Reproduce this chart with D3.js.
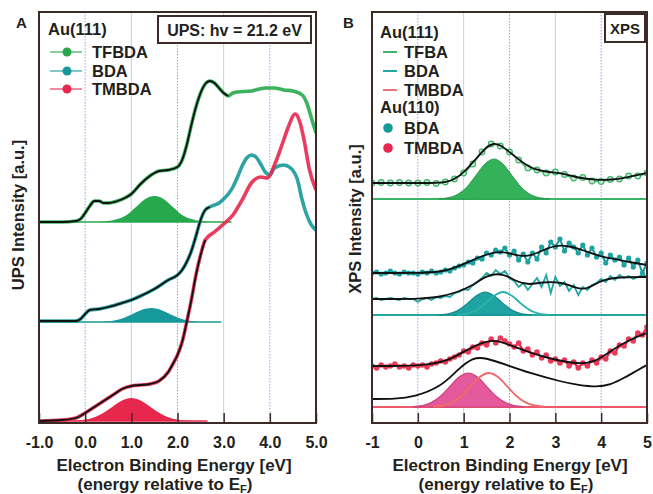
<!DOCTYPE html>
<meta charset="utf-8">
<style>
body { margin: 0; background: #fff; }
svg { font-family: "Liberation Sans", Arial, sans-serif; font-weight: bold; }
</style>
<body>
<script src="https://d3js.org/d3.v7.min.js"></script>
<script>

var energyTicks = [-1, 0, 1, 2, 3, 4, 5];
var upsTickLabels = ["-1.0", "0.0", "1.0", "2.0", "3.0", "4.0", "5.0"];
var xpsTickLabels = ["-1", "0", "1", "2", "3", "4", "5"];

// ---- panel A : UPS spectra on Au(111), [binding energy, intensity a.u.]
var upsTFBDA = [[-1.0,201],[-0.5,201],[-0.2,202],[-0.1,204],[0.0,210],[0.1,217],[0.2,222],[0.3,222],[0.4,220],[0.5,220],[0.7,222],[0.9,226],[1.0,229],[1.2,239],[1.4,247],[1.5,250],[1.6,252],[1.8,253],[2.0,256],[2.1,263],[2.2,278],[2.3,298],[2.4,316],[2.5,330],[2.6,339],[2.7,342],[2.8,340],[2.9,335],[3.0,330],[3.1,327],[3.2,330],[3.3,331],[3.6,332],[3.9,335],[4.1,335],[4.3,333],[4.5,332],[4.7,328],[4.8,320],[4.9,305],[5.0,290]];
var upsBDA = [[-1.0,102],[-0.5,102],[-0.2,102],[-0.1,104],[0.0,109],[0.1,113],[0.3,114],[0.5,116],[0.8,120],[1.0,123],[1.2,127],[1.5,134],[1.8,143],[2.0,148],[2.1,153],[2.2,161],[2.3,172],[2.4,187],[2.5,203],[2.6,213],[2.7,216],[2.9,220],[3.0,224],[3.1,229],[3.2,236],[3.3,246],[3.4,257],[3.5,265],[3.6,268],[3.7,266],[3.8,259],[3.9,251],[4.0,248],[4.1,255],[4.3,258],[4.45,255],[4.6,243],[4.7,223],[4.8,208],[4.9,198],[5.0,193]];
var upsTMBDA = [[-1.0,2],[-0.5,3],[-0.2,5],[0.0,10],[0.2,16],[0.4,22],[0.6,28],[0.8,34],[1.0,37],[1.2,38],[1.4,39],[1.6,42],[1.8,51],[1.9,59],[2.0,68],[2.1,81],[2.2,101],[2.3,123],[2.4,148],[2.5,168],[2.6,183],[2.8,191],[3.0,199],[3.2,208],[3.4,223],[3.6,240],[3.8,246],[3.95,245],[4.1,258],[4.3,283],[4.4,296],[4.55,309],[4.65,301],[4.75,281],[4.85,255],[5.0,233]];
// energy up to which the black fit runs over each spectrum
var upsFitEnd = [3.12, 2.75, 2.7];
// fitted HOMO peaks
var upsTFBDAPeak = [[0.3,201],[0.5,202],[0.7,204],[0.9,208],[1.1,216],[1.3,224],[1.5,227],[1.7,224],[1.9,216],[2.1,208],[2.3,204],[2.5,202],[2.7,201]];
var upsBDAPeak = [[0.43,101.4],[0.63,102.5],[0.83,105],[1.03,109],[1.23,113.2],[1.43,115],[1.63,113.2],[1.83,109],[2.03,105],[2.23,102.5],[2.43,101.4]];
var upsTMBDAPeak = [[-0.4,2.1],[-0.2,2.4],[0.0,3.4],[0.2,5.7],[0.4,10.3],[0.6,16.6],[0.8,22.5],[1.0,25],[1.2,22.5],[1.4,16.6],[1.6,10.3],[1.8,5.7],[2.0,3.4],[2.2,2.4],[2.4,2.1],[2.65,2]];
// peak baselines: [from, to, level]
var upsBaselines = [[-1, 3.17, 201], [-1, 2.95, 101], [-1, 2.65, 2]];

// ---- panel B : XPS valence spectra
var xpsTFBAData = [[-1.0,240],[-0.8,240.5],[-0.6,240],[-0.4,240.5],[-0.2,240],[0.0,240],[0.2,240.5],[0.4,239.5],[0.6,241],[0.8,244],[1.0,250],[1.2,259],[1.4,271],[1.6,279],[1.8,277],[2.0,271],[2.2,263],[2.4,255],[2.6,253],[2.8,250],[3.0,251],[3.2,248.5],[3.4,245],[3.6,245.5],[3.8,242],[4.0,241.5],[4.2,243.5],[4.4,244],[4.6,247],[4.8,247],[5.0,250]];
var xpsTFBAFit = [[-1.0,240],[-0.5,240],[0.0,240],[0.4,240],[0.65,241],[0.8,244],[1.0,250],[1.3,266],[1.5,276],[1.65,280],[1.8,278],[2.0,271],[2.16,265],[2.44,255],[2.8,251],[3.15,250],[3.5,245],[3.9,243],[4.24,243],[4.6,246],[5.0,250]];
var xpsTFBAPeak = [[0.46,224.3],[0.66,225.2],[0.86,228.4],[1.06,235.5],[1.26,247],[1.46,258.8],[1.66,264],[1.86,258.8],[2.06,247],[2.26,235.5],[2.46,228.4],[2.66,225.2],[2.86,224.3]];

var xpsGrid = [-1.0,-0.9,-0.8,-0.7,-0.6,-0.5,-0.4,-0.3,-0.2,-0.1,
  0.0,0.1,0.2,0.3,0.4,0.5,0.6,0.7,0.8,0.9,
  1.0,1.1,1.2,1.3,1.4,1.5,1.6,1.7,1.8,1.9,
  2.0,2.1,2.2,2.3,2.4,2.5,2.6,2.7,2.8,2.9,
  3.0,3.1,3.2,3.3,3.4,3.5,3.6,3.7,3.8,3.9,
  4.0,4.1,4.2,4.3,4.4,4.5,4.6,4.7,4.8,4.9,5.0];
var xpsBDA110 = [150,151,149,150,152,150,149,151,150,150,
  149,151,150,152,150,151,153,152,155,157,
  158,161,160,165,164,170,168,173,171,175,
  168,172,163,169,161,170,164,176,170,181,
  176,184,172,180,176,170,178,168,175,166,
  170,160,168,163,166,158,165,156,163,150,160];
var xpsBDA110Fit = [[-1.0,150],[0.0,150],[0.5,151],[0.8,155],[1.2,163],[1.5,169],[1.86,172],[2.1,168],[2.4,166],[2.7,172],[3.0,178],[3.3,177],[3.6,173],[4.0,166],[4.3,164],[4.6,161],[5.0,158]];
var xpsBDA111 = [124,125,123,124,125,124,123,125,124,124,
  121,124,125,123,126,125,127,126,130,131,
  134,133,138,141,145,150,147,153,149,152,
  145,142,136,140,133,139,145,136,148,130,
  146,137,141,132,138,128,136,133,138,140,
  144,141,147,143,148,145,147,144,146,148,147];
var xpsBDA111Fit = [[-1.0,124],[-0.5,124],[0.0,124],[0.5,126],[0.86,131],[1.15,136],[1.5,148],[1.86,150],[2.16,141],[2.44,138],[2.7,141],[3.15,141],[3.45,135],[3.67,133],[4.0,143],[4.38,146],[5.0,146]];
var xpsBDAPeakA = [[0.47,108.2],[0.67,109.2],[0.87,112.4],[1.07,119],[1.27,127.1],[1.47,131],[1.67,127.1],[1.87,119],[2.07,112.4],[2.27,109.2],[2.47,108.2]];
var xpsBDAPeakB = [[0.86,108.2],[1.06,109.2],[1.26,112.4],[1.46,119],[1.66,127.1],[1.86,131],[2.06,127.1],[2.26,119],[2.46,112.4],[2.66,109.2],[2.86,108.2]];

var xpsTMBDA110 = [57,55,58,56,57,59,56,57,55,58,
  57,58,56,59,60,62,61,64,66,68,
  72,71,76,75,80,78,84,80,85,82,
  79,76,80,72,74,68,71,65,68,62,
  64,60,63,57,61,55,60,57,63,60,
  66,64,72,70,78,77,84,82,90,88,96];
var xpsTMBDA110Fit = [[-1.0,57],[0.0,57],[0.65,61],[1.15,76],[1.58,83],[1.8,82],[2.44,70],[3.0,63],[3.5,59],[3.88,61],[4.24,73],[4.6,83],[5.0,90]];
var xpsTMBDA111Fit = [[-1.0,24],[-0.5,24],[-0.08,26],[0.5,36],[0.86,53],[1.2,66],[1.5,65],[1.94,58],[2.44,50],[3.15,41],[3.5,38],[3.9,36],[4.2,38],[4.5,45],[4.8,53],[5.0,58]];
var xpsTMBDAPeakA = [[-0.1,16.4],[0.1,17.5],[0.3,20.6],[0.5,27],[0.7,36.6],[0.9,46],[1.1,50],[1.3,46],[1.5,36.6],[1.7,27],[1.9,20.6],[2.1,17.5],[2.3,16.4]];
var xpsTMBDAPeakB = [[0.35,16.4],[0.55,17.5],[0.75,20.6],[0.95,27],[1.15,36.6],[1.35,46],[1.55,50],[1.75,46],[1.95,36.6],[2.15,27],[2.35,20.6],[2.55,17.5],[2.75,16.4]];
var xpsBaselines = [224, 108, 16];

var green = "#27a84c", teal = "#16999a", red = "#e8274d", pink = "#e4589c";
var ink = "#231f20", frameCol = "#3b2a28";

var svg = d3.select("body").append("svg")
    .attr("width", 653)
    .attr("height", 494);

var plotTop = 12, plotBottom = 423;

function panel(left, right, tickLabels, id) {
  var x = d3.scaleLinear().domain([-1, 5]).range([left, right]);
  var y = d3.scaleLinear().domain([0, 411]).range([plotBottom, plotTop]);

  svg.append("clipPath").attr("id", id)
    .append("rect").attr("x", left).attr("y", plotTop)
    .attr("width", right - left).attr("height", plotBottom - plotTop);

  // vertical guides
  svg.append("g").selectAll("line")
      .data([0, 1, 2, 3, 4])
    .enter().append("line")
      .attr("x1", x).attr("x2", x)
      .attr("y1", plotTop).attr("y2", plotBottom)
      .attr("stroke", function(d) { return d % 2 ? "#cfcfd4" : "#9aa2e6"; })
      .attr("stroke-width", 1)
      .attr("stroke-dasharray", function(d) { return d % 2 ? null : "1.5,1.5"; });

  var g = svg.append("g").attr("clip-path", "url(#" + id + ")");

  var axis = d3.axisBottom(x)
      .tickValues(energyTicks)
      .tickSizeInner(-10)
      .tickSizeOuter(0)
      .tickPadding(14)
      .tickFormat(function(d, i) { return tickLabels[i]; });

  svg.append("g")
      .attr("transform", "translate(0," + plotBottom + ")")
      .call(axis)
      .attr("font-family", "Liberation Sans, Arial, sans-serif")
      .attr("font-size", 16)
      .attr("font-weight", "bold")
      .call(function(a) {
        a.select(".domain").remove();
        a.selectAll("line").attr("stroke", frameCol).attr("stroke-width", 1.5);
        a.selectAll("text").attr("fill", ink);
      });

  return { g: g, x: x, y: y, left: left, right: right };
}

function lineGen(p, curve) {
  return d3.line()
      .x(function(d) { return p.x(d[0]); })
      .y(function(d) { return p.y(d[1]); })
      .curve(curve || d3.curveMonotoneX);
}

function areaGen(p, base) {
  return d3.area()
      .x(function(d) { return p.x(d[0]); })
      .y0(p.y(base))
      .y1(function(d) { return p.y(d[1]); })
      .curve(d3.curveMonotoneX);
}

function frame(p) {
  svg.append("rect")
      .attr("x", p.left).attr("y", plotTop)
      .attr("width", p.right - p.left).attr("height", plotBottom - plotTop)
      .attr("fill", "none").attr("stroke", frameCol).attr("stroke-width", 2);
}

function text(x, y, s, size, anchor) {
  return svg.append("text")
      .attr("x", x).attr("y", y)
      .attr("font-size", size)
      .attr("fill", ink)
      .attr("text-anchor", anchor || "start")
      .text(s);
}

// ================= panel A =================
var A = panel(39, 316, upsTickLabels, "clipA");
var upsSeries = [upsTFBDA, upsBDA, upsTMBDA];
var upsPeaks = [upsTFBDAPeak, upsBDAPeak, upsTMBDAPeak];
var upsColors = [green, teal, red];

upsBaselines.forEach(function(b, i) {
  A.g.append("line")
      .attr("x1", A.x(b[0])).attr("x2", A.x(b[1]))
      .attr("y1", A.y(b[2])).attr("y2", A.y(b[2]))
      .attr("stroke", upsColors[i]).attr("stroke-width", 1.5);
  A.g.append("path")
      .datum(upsPeaks[i])
      .attr("d", areaGen(A, b[2]))
      .attr("fill", upsColors[i]);
});

upsSeries.forEach(function(s, i) {
  A.g.append("path")
      .datum(s)
      .attr("d", lineGen(A))
      .attr("fill", "none")
      .attr("stroke", upsColors[i])
      .attr("stroke-width", 3.6)
      .attr("stroke-opacity", 0.9);
  A.g.append("path")
      .datum(s.filter(function(d) { return d[0] <= upsFitEnd[i]; }))
      .attr("d", lineGen(A))
      .attr("fill", "none")
      .attr("stroke", "#111")
      .attr("stroke-width", 1.8);
});

frame(A);

// legend A
text(48, 35, "Au(111)", 16.5);
["TFBDA", "BDA", "TMBDA"].forEach(function(name, i) {
  var yy = [52, 71, 89][i];
  svg.append("line")
      .attr("x1", 50).attr("x2", 82).attr("y1", yy).attr("y2", yy)
      .attr("stroke", upsColors[i]).attr("stroke-opacity", 0.6).attr("stroke-width", 1.8);
  svg.append("circle").attr("cx", 67).attr("cy", yy).attr("r", 4.5).attr("fill", upsColors[i]);
  text(92, yy + 6, name, 16.5);
});

svg.append("rect").attr("x", 158).attr("y", 16).attr("width", 153).attr("height", 27)
    .attr("fill", "#fff").attr("stroke", frameCol).attr("stroke-width", 2);
text(234.5, 35.5, "UPS: hv = 21.2 eV", 16, "middle");

text(16, 28, "A", 15);
text(-215, 24, "UPS Intensity [a.u.]", 16.5, "middle").attr("transform", "rotate(-90)");
text(174, 471, "Electron Binding Energy [eV]", 17, "middle");
var subA = text(165, 490, "(energy relative to E", 17, "middle");
subA.append("tspan").attr("font-size", 11).attr("dy", 3).text("F");
subA.append("tspan").attr("dy", -3).text(")");

// ================= panel B =================
var B = panel(372, 647, xpsTickLabels, "clipB");
var gridPts = function(vals) { return vals.map(function(v, i) { return [xpsGrid[i], v]; }); };

var baseColors = ["#3cb56a", "#22a8a4", "#ef5a6a"];
xpsBaselines.forEach(function(b, i) {
  B.g.append("line")
      .attr("x1", B.left).attr("x2", B.right)
      .attr("y1", B.y(b)).attr("y2", B.y(b))
      .attr("stroke", baseColors[i]).attr("stroke-width", 2);
});

// fitted components
B.g.append("path").datum(xpsTFBAPeak).attr("d", areaGen(B, xpsBaselines[0]))
    .attr("fill", "#34b25a").attr("stroke", "#249a48").attr("stroke-width", 1);
B.g.append("path").datum(xpsBDAPeakA).attr("d", areaGen(B, xpsBaselines[1]))
    .attr("fill", "#20a3a3").attr("stroke", "#138c8c").attr("stroke-width", 1.2);
B.g.append("path").datum(xpsBDAPeakB).attr("d", lineGen(B))
    .attr("fill", "none").attr("stroke", "#2ab3a8").attr("stroke-width", 1.8);
B.g.append("path").datum(xpsTMBDAPeakA).attr("d", areaGen(B, xpsBaselines[2]))
    .attr("fill", pink).attr("stroke", "#d0407a").attr("stroke-width", 1.2);
B.g.append("path").datum(xpsTMBDAPeakB).attr("d", lineGen(B))
    .attr("fill", "none").attr("stroke", "#f06a6a").attr("stroke-width", 1.8);

// TFBA on Au(111)
B.g.append("path").datum(xpsTFBAData).attr("d", lineGen(B))
    .attr("fill", "none").attr("stroke", "#49b873").attr("stroke-width", 1.5);
B.g.selectAll("circle.tfba").data(xpsTFBAData).enter().append("circle")
    .attr("class", "tfba")
    .attr("cx", function(d) { return B.x(d[0]); })
    .attr("cy", function(d) { return B.y(d[1]); })
    .attr("r", 2.8).attr("fill", "#c6e8d1").attr("stroke", "#3db46b").attr("stroke-width", 1.2);

// BDA on Au(110) (dots) and Au(111) (line)
var bda110 = gridPts(xpsBDA110);
B.g.append("path").datum(bda110).attr("d", lineGen(B, d3.curveLinear))
    .attr("fill", "none").attr("stroke", teal).attr("stroke-width", 2);
B.g.selectAll("circle.bda").data(bda110).enter().append("circle")
    .attr("class", "bda")
    .attr("cx", function(d) { return B.x(d[0]); })
    .attr("cy", function(d) { return B.y(d[1]); })
    .attr("r", 2.6).attr("fill", "#1aa3a0");
B.g.append("path").datum(gridPts(xpsBDA111)).attr("d", lineGen(B, d3.curveLinear))
    .attr("fill", "none").attr("stroke", "#22a8a4").attr("stroke-width", 1.8);

// TMBDA on Au(110) (dots)
var tmbda110 = gridPts(xpsTMBDA110);
B.g.append("path").datum(tmbda110).attr("d", lineGen(B, d3.curveLinear))
    .attr("fill", "none").attr("stroke", red).attr("stroke-width", 2.4);
B.g.selectAll("circle.tmbda").data(tmbda110).enter().append("circle")
    .attr("class", "tmbda")
    .attr("cx", function(d) { return B.x(d[0]); })
    .attr("cy", function(d) { return B.y(d[1]); })
    .attr("r", 2.8).attr("fill", "#ea3a58");

// fits
[xpsTFBAFit, xpsBDA110Fit, xpsBDA111Fit, xpsTMBDA110Fit, xpsTMBDA111Fit].forEach(function(f) {
  B.g.append("path").datum(f).attr("d", lineGen(B, d3.curveBasis))
      .attr("fill", "none").attr("stroke", "#111").attr("stroke-width", 1.8);
});

frame(B);

// legend B
text(380, 38, "Au(111)", 16.5);
var xpsLegendColors = ["#3cb56a", "#22a8a4", "#f07080"];
["TFBA", "BDA", "TMBDA"].forEach(function(name, i) {
  var yy = [52, 71, 90][i];
  svg.append("line").attr("x1", 383).attr("x2", 397).attr("y1", yy).attr("y2", yy)
      .attr("stroke", xpsLegendColors[i]).attr("stroke-width", 2);
  text(404, yy + 6, name, 16.5);
});
text(380, 113, "Au(110)", 16.5);
["BDA", "TMBDA"].forEach(function(name, i) {
  var yy = [128, 148][i];
  svg.append("circle").attr("cx", 388).attr("cy", yy).attr("r", 4.8)
      .attr("fill", [teal, red][i]);
  text(404, yy + 6, name, 16.5);
});

svg.append("rect").attr("x", 605).attr("y", 14).attr("width", 40).attr("height", 28)
    .attr("fill", "#fff").attr("stroke", frameCol).attr("stroke-width", 2);
text(625, 34, "XPS", 15, "middle");

text(343, 28, "B", 15);
text(-219, 361, "XPS Intensity [a.u.]", 16.5, "middle").attr("transform", "rotate(-90)");
text(510, 471, "Electron Binding Energy [eV]", 17, "middle");
var subB = text(506, 490, "(energy relative to E", 17, "middle");
subB.append("tspan").attr("font-size", 11).attr("dy", 3).text("F");
subB.append("tspan").attr("dy", -3).text(")");

</script>
